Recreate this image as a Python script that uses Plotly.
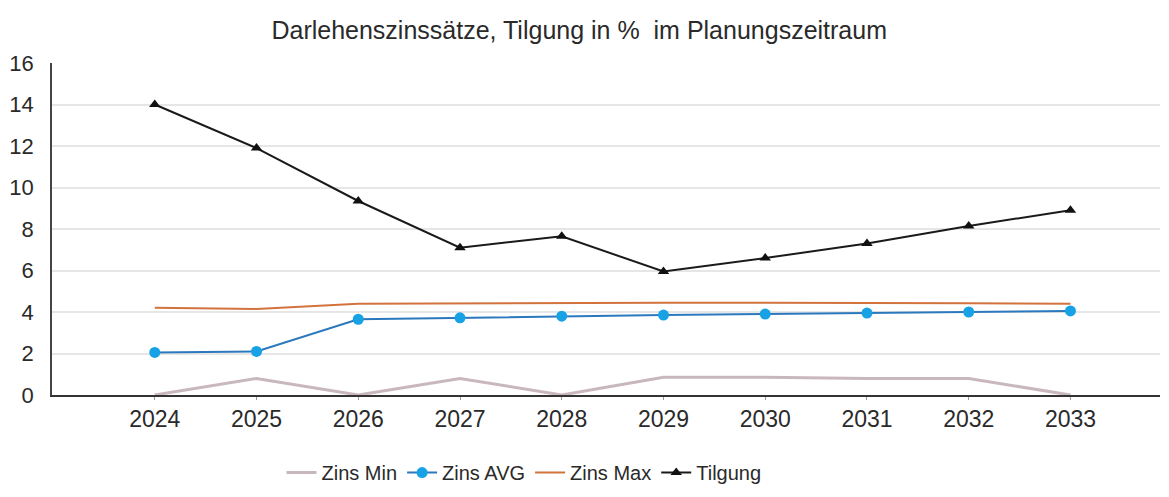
import plotly.graph_objects as go

# Planungsjahre und Werte in %
jahre = ["2024", "2025", "2026", "2027", "2028", "2029", "2030", "2031", "2032", "2033"]
zins_min = [0.0, 0.8, 0.0, 0.8, 0.0, 0.85, 0.85, 0.8, 0.8, 0.0]
zins_avg = [2.05, 2.1, 3.65, 3.72, 3.8, 3.85, 3.9, 3.95, 4.0, 4.05]
zins_max = [4.2, 4.15, 4.4, 4.42, 4.45, 4.45, 4.45, 4.42, 4.42, 4.4]
tilgung = [14.0, 11.9, 9.35, 7.1, 7.65, 5.95, 6.6, 7.3, 8.15, 8.9]
y_ticks = [0, 2, 4, 6, 8, 10, 12, 14, 16]

fig = go.Figure()
fig.add_trace(go.Scatter(x=jahre, y=zins_min, mode="lines", name="Zins Min",
                         line=dict(color="#c9b7bf", width=3)))
fig.add_trace(go.Scatter(x=jahre, y=zins_avg, mode="lines+markers", name="Zins AVG",
                         line=dict(color="#2b78bd", width=2),
                         marker=dict(color="#18a2e6", size=11, symbol="circle")))
fig.add_trace(go.Scatter(x=jahre, y=zins_max, mode="lines", name="Zins Max",
                         line=dict(color="#d2733e", width=2)))
fig.add_trace(go.Scatter(x=jahre, y=tilgung, mode="lines+markers", name="Tilgung",
                         line=dict(color="#1a1a1a", width=2),
                         marker=dict(color="#111111", size=10, symbol="triangle-up")))

# page body has an 8px margin, so the figure is a bit smaller than the window
fig.update_layout(
    width=1161, height=489,
    margin=dict(l=44, r=9, t=55, b=102),
    paper_bgcolor="white", plot_bgcolor="white",
    font=dict(family="Liberation Sans, Arial, sans-serif", color="#2a2a2a"),
    title=dict(text="Darlehenszinssätze, Tilgung in %  im Planungszeitraum",
               x=0.492, xanchor="center", y=0.955, yanchor="middle",
               font=dict(size=25, color="#2a2a2a")),
    showlegend=True,
    legend=dict(orientation="h", x=0.426, xanchor="center",
                yref="container", y=0.05, yanchor="middle",
                font=dict(size=20, color="#2a2a2a"), itemwidth=30),
)
fig.update_xaxes(type="category", range=[-1.01, 9.88], showgrid=False,
                 showline=True, linecolor="#333333", linewidth=1.5,
                 ticks="outside", ticklen=3, tickcolor="#999999",
                 automargin=False,
                 tickfont=dict(size=23, color="#2a2a2a"))
fig.update_yaxes(range=[0, 16], tickvals=y_ticks, showgrid=True,
                 gridcolor="#e6e6e6", gridwidth=1.5,
                 showline=True, linecolor="#444444", linewidth=1.5,
                 zeroline=False, ticks="", ticklen=0, automargin=False,
                 ticklabelstandoff=12,
                 tickfont=dict(size=22, color="#2a2a2a"))

fig.write_html("out.html")
